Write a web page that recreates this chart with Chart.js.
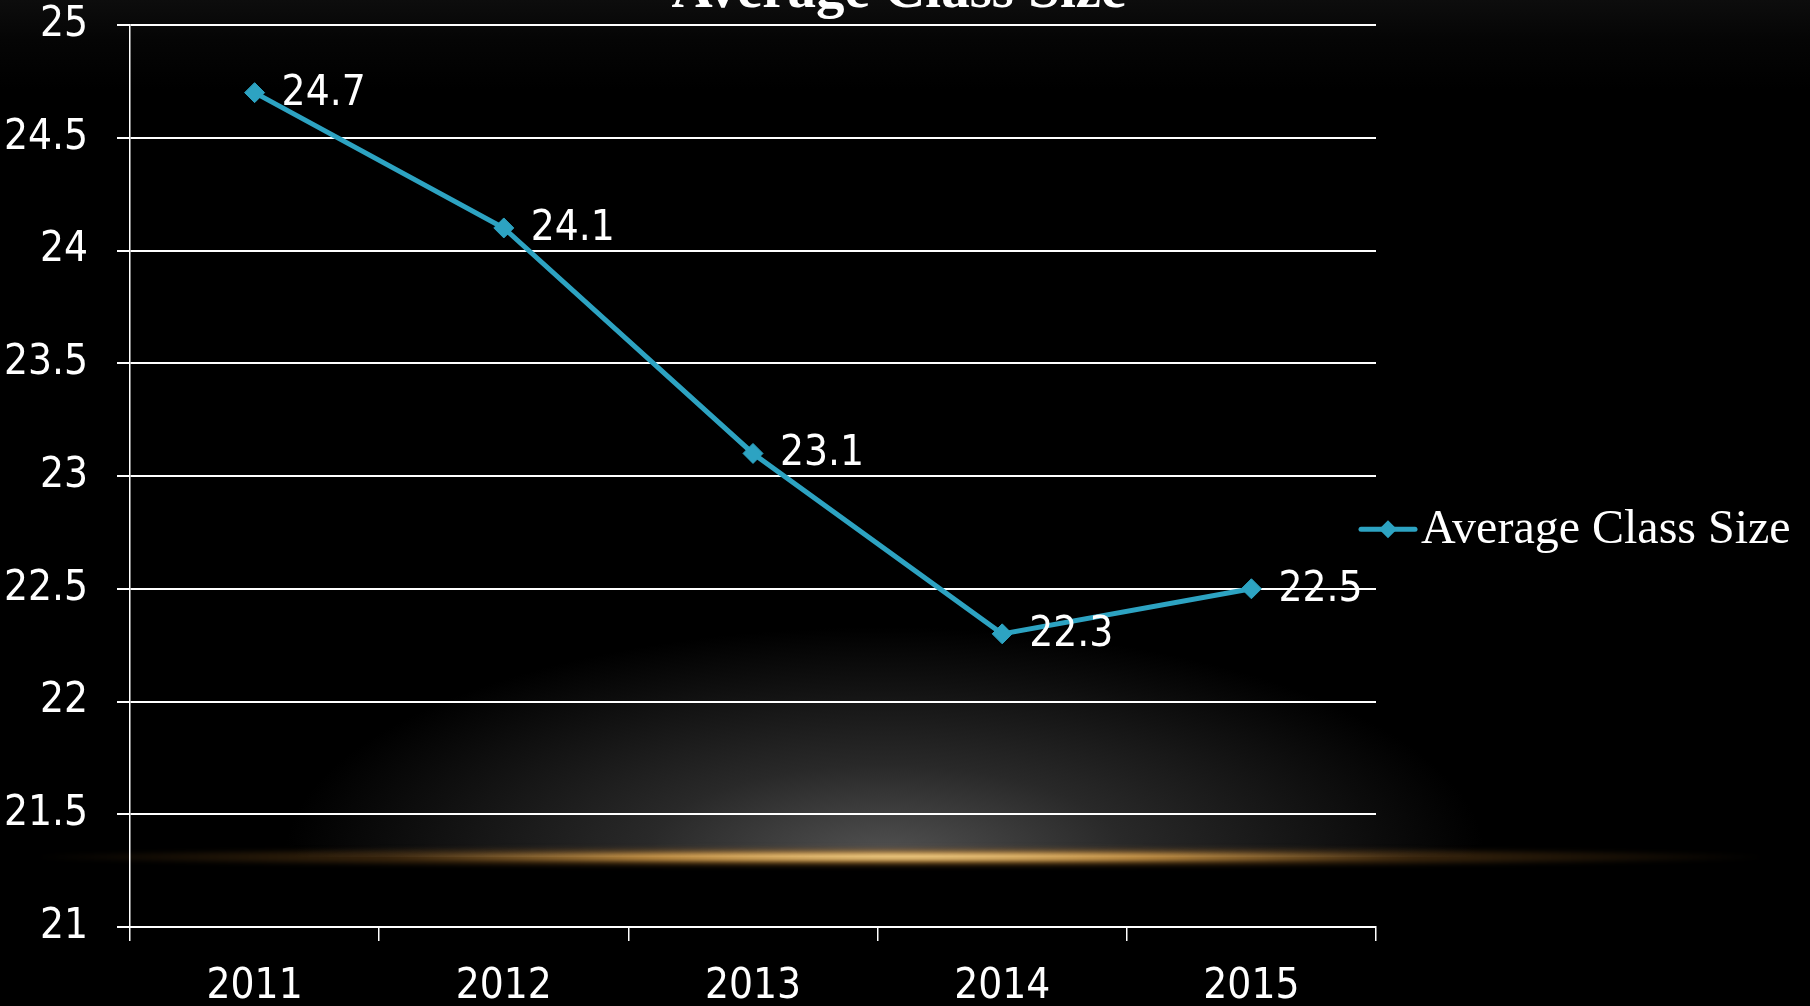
<!DOCTYPE html>
<html>
<head>
<meta charset="utf-8">
<script src="https://cdn.jsdelivr.net/npm/chart.js@4/dist/chart.umd.min.js"></script>
<style>
    html, body { margin: 0; padding: 0; background: #000; overflow: hidden; }
    #stage {
        position: relative;
        width: 1810px;
        height: 1006px;
        background: linear-gradient(#0d0d0d 0px, #050505 40px, #000 90px);
    }
    /* soft grey spotlight above the golden streak */
    #spot {
        position: absolute;
        left: 0; top: 560px;
        width: 1810px; height: 297px;
        background: radial-gradient(ellipse 600px 230px at 885px 100%, rgba(82,82,82,1) 0%, rgba(48,48,48,0.85) 40%, rgba(0,0,0,0) 100%);
    }
    #streak {
        position: absolute;
        left: 30px; top: 846px;
        width: 1740px; height: 22px;
        background: radial-gradient(ellipse 50% 50% at 50% 50%, rgba(255,228,160,1) 0%, rgba(230,170,80,0.85) 30%, rgba(140,90,30,0.4) 60%, rgba(0,0,0,0) 100%);
        filter: blur(2px);
    }
    #chart { position: absolute; left: 0; top: 0; }
</style>
</head>
<body>
<div id="stage">
    <div id="spot"></div>
    <div id="streak"></div>
    <canvas id="chart" width="1810" height="1006"></canvas>
</div>
<script>
    // Data
    const years = ['2011', '2012', '2013', '2014', '2015'];
    const classSize = [24.7, 24.1, 23.1, 22.3, 22.5];
    const seriesName = 'Average Class Size';
    const chartTitle = 'Average Class Size';
    const yMin = 21, yMax = 25, yStep = 0.5;

    const lineColor = '#2da3c2';
    const narrow = '"Liberation Sans Narrow", "DejaVu Sans Condensed", sans-serif';
    const serif = '"Liberation Serif", "Times New Roman", serif';

    // Title sits mostly above the top edge, like the original slide
    const topTitle = {
        id: 'topTitle',
        afterDraw(chart) {
            const ctx = chart.ctx;
            ctx.save();
            ctx.font = 'bold 57px ' + serif;
            ctx.fillStyle = '#fff';
            ctx.textAlign = 'center';
            ctx.textBaseline = 'alphabetic';
            ctx.fillText(chartTitle, chart.width / 2 - 6, 7);
            ctx.restore();
        }
    };

    // Value labels to the right of each point
    const pointLabels = {
        id: 'pointLabels',
        afterDatasetsDraw(chart) {
            const ctx = chart.ctx;
            const meta = chart.getDatasetMeta(0);
            ctx.save();
            ctx.font = '42px ' + narrow;
            ctx.fillStyle = '#fff';
            ctx.textAlign = 'left';
            ctx.textBaseline = 'middle';
            meta.data.forEach((pt, i) => {
                ctx.fillText(String(chart.data.datasets[0].data[i]), pt.x + 27, pt.y + 1);
            });
            ctx.restore();
        }
    };

    // Excel-style legend sitting just right of the plot
    const sideLegend = {
        id: 'sideLegend',
        afterDraw(chart) {
            const ctx = chart.ctx;
            const ds = chart.data.datasets[0];
            const x0 = chart.chartArea.right - 15;
            const y = chart.height * 0.526;
            ctx.save();
            ctx.strokeStyle = ds.borderColor;
            ctx.lineWidth = 5;
            ctx.lineCap = 'round';
            ctx.beginPath();
            ctx.moveTo(x0, y);
            ctx.lineTo(x0 + 54, y);
            ctx.stroke();
            ctx.fillStyle = ds.borderColor;
            ctx.beginPath();
            ctx.moveTo(x0 + 27 - 9, y);
            ctx.lineTo(x0 + 27, y - 9);
            ctx.lineTo(x0 + 27 + 9, y);
            ctx.lineTo(x0 + 27, y + 9);
            ctx.closePath();
            ctx.fill();
            ctx.font = '48px ' + serif;
            ctx.fillStyle = '#fff';
            ctx.textAlign = 'left';
            ctx.textBaseline = 'middle';
            ctx.fillText(ds.label, x0 + 60, y + 1);
            ctx.restore();
        }
    };

    const chart = new Chart(document.getElementById('chart').getContext('2d'), {
        type: 'line',
        data: {
            labels: years,
            datasets: [{
                label: seriesName,
                data: classSize,
                borderColor: lineColor,
                backgroundColor: lineColor,
                borderWidth: 5,
                pointStyle: 'rectRot',
                pointRadius: 10,
                pointBorderWidth: 1,
                tension: 0,
                fill: false
            }]
        },
        options: {
            responsive: false,
            animation: false,
            devicePixelRatio: 1,
            layout: { padding: { left: 0, right: 434, top: 25, bottom: 0 } },
            scales: {
                x: {
                    offset: true,
                    grid: {
                        offset: true,
                        drawOnChartArea: false,
                        drawTicks: true,
                        tickLength: 14,
                        color: '#fff',
                        lineWidth: 1.5
                    },
                    border: { display: true, color: '#fff', width: 2 },
                    ticks: {
                        color: '#fff',
                        font: { family: narrow, size: 42, lineHeight: 1.2 },
                        padding: 21,
                        maxRotation: 0
                    },
                    afterFit(scale) { scale.height = 79; }
                },
                y: {
                    min: yMin,
                    max: yMax,
                    grid: {
                        color: '#fff',
                        lineWidth: 2,
                        drawTicks: true,
                        tickLength: 13
                    },
                    border: { display: true, color: '#fff', width: 1.5 },
                    ticks: {
                        stepSize: yStep,
                        color: '#fff',
                        font: { family: narrow, size: 42, lineHeight: 1 },
                        padding: 29,
                        callback: v => String(v)
                    },
                    afterFit(scale) {
                        scale.width = 130;
                        // let the "25" label hang above the plot instead of pushing it down
                        scale.paddingTop = 0;
                        scale.paddingBottom = 0;
                    }
                }
            },
            plugins: {
                legend: { display: false },
                tooltip: { enabled: false },
                title: { display: false }
            }
        },
        plugins: [pointLabels, sideLegend, topTitle]
    });
</script>
</body>
</html>
